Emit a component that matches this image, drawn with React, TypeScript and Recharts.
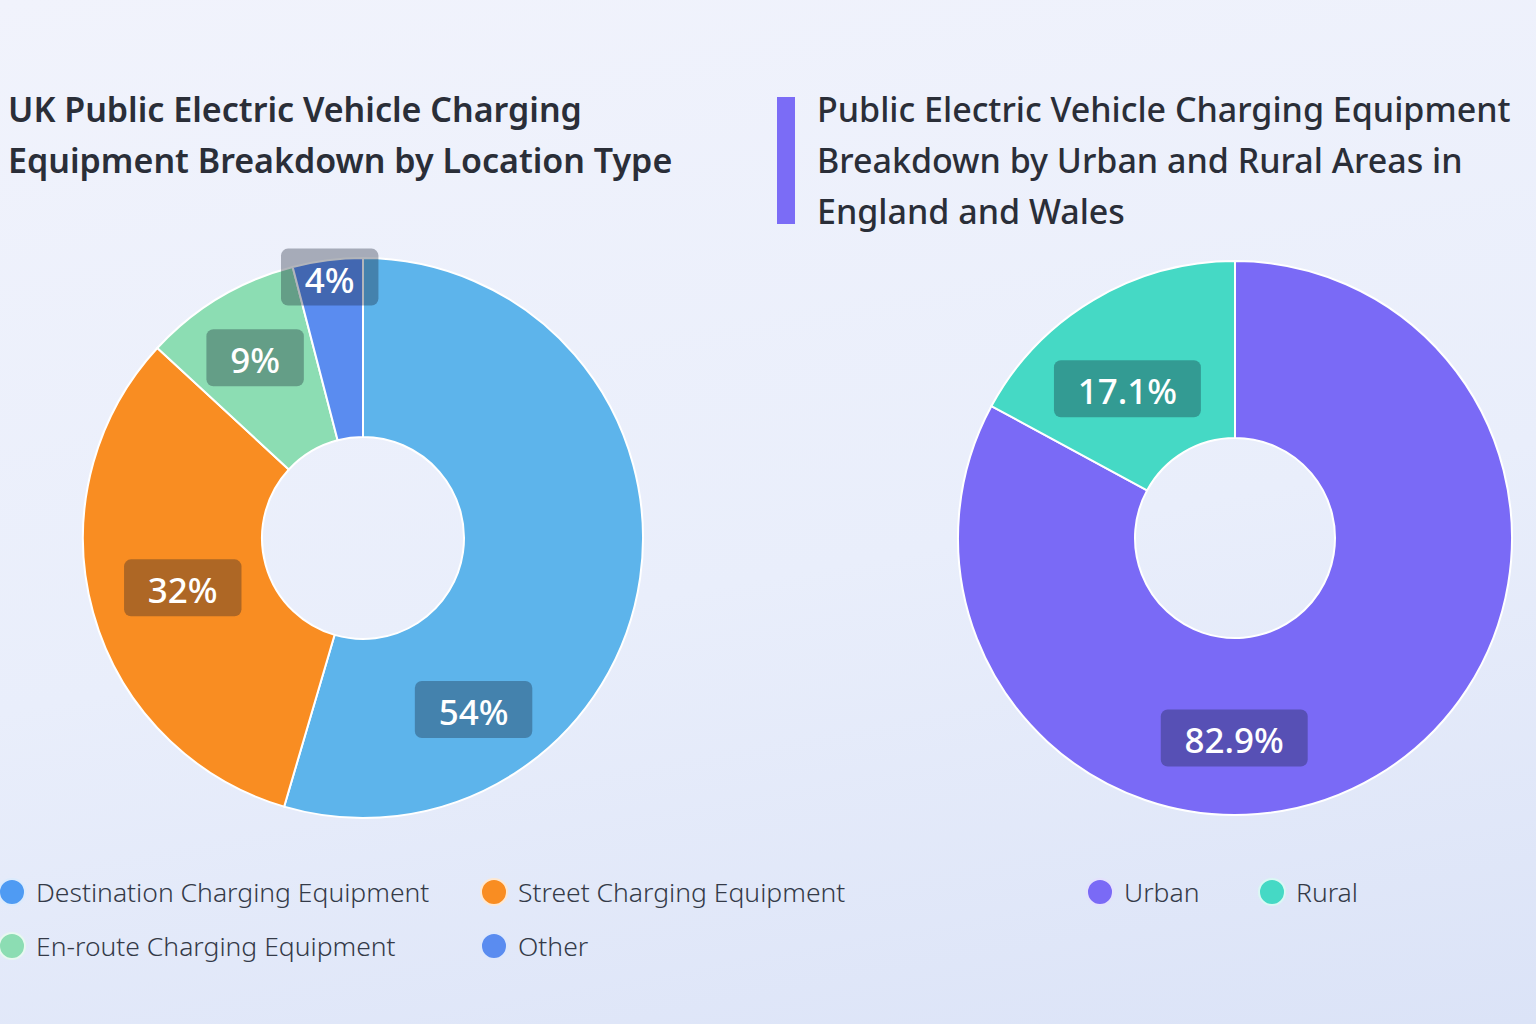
import React from 'react';
import { PieChart, Pie, Cell } from 'recharts';

// location type breakdown (percent)
const locationNames = [
  'Destination Charging Equipment',
  'Street Charging Equipment',
  'En-route Charging Equipment',
  'Other',
];
const locationValues = [54, 32, 9, 4];
const locationColors = ['#5DB4EB', '#F98D22', '#8CDDB3', '#5A8CF0'];
const locationLegendColors = ['#4F9BF3', '#F98D22', '#8CDDB3', '#5A8CF0'];

// urban / rural breakdown (percent)
const areaNames = ['Urban', 'Rural'];
const areaValues = [82.9, 17.1];
const areaColors = ['#7A6AF6', '#45D9C5'];

// label placement tweaks: angle offset (deg, clockwise) and radius
const locationLabelShift = [49, 0, 0, 0];
const locationLabelRadius = [204, 187, 210, 263];
const areaLabelShift = [31, -5];
const areaLabelRadius = [200, 184];

const FONT = '"Noto Sans", sans-serif';

const charW = (c: string) => (c === '%' ? 0.84 : c === '.' ? 0.27 : 0.572);

const makeLabel = (shifts: number[], radii: number[], suffixDigits: number) => (props: any) => {
  const { cx, cy, midAngle, index, value } = props;
  const theta = ((90 - midAngle + shifts[index]) * Math.PI) / 180;
  const r = radii[index];
  const x = cx + r * Math.sin(theta);
  const y = cy - r * Math.cos(theta);
  const text = `${suffixDigits ? Number(value).toFixed(suffixDigits) : value}%`;
  const fs = 35;
  const w = text.split('').reduce((s, c) => s + charW(c), 0) * fs + 48;
  const h = 57;
  return (
    <g>
      <rect x={x - w / 2} y={y - h / 2} width={w} height={h} rx={7} fill="rgba(15,25,45,0.32)" />
      <text
        x={x}
        y={y + 2}
        fill="#fff"
        textAnchor="middle"
        dominantBaseline="central"
        fontSize={fs}
        fontWeight={500}
        fontFamily={FONT}
      >
        {text}
      </text>
    </g>
  );
};

const LegendItem = ({ color, label, style }: { color: string; label: string; style: React.CSSProperties }) => (
  <div style={{ position: 'absolute', display: 'flex', alignItems: 'center', ...style }}>
    <span
      style={{
        width: 24,
        height: 24,
        borderRadius: '50%',
        background: color,
        border: '2px solid rgba(255,255,255,0.8)',
        marginRight: 10,
        marginLeft: -14,
        flexShrink: 0,
      }}
    />
    <span style={{ fontSize: 26.5, color: '#343a48', fontFamily: FONT, fontWeight: 300 }}>{label}</span>
  </div>
);

export default function App() {
  const locData = locationNames.map((name, i) => ({ name, value: locationValues[i] }));
  const areaData = areaNames.map((name, i) => ({ name, value: areaValues[i] }));

  const titleStyle: React.CSSProperties = {
    position: 'absolute',
    fontFamily: FONT,
    fontSize: 34,
    fontWeight: 600,
    color: '#2a2e38',
    lineHeight: '51px',
    margin: 0,
    whiteSpace: 'nowrap',
  };

  return (
    <div
      style={{
        position: 'fixed',
        left: 0,
        top: 0,
        width: 1536,
        height: 1024,
        overflow: 'hidden',
        background: 'linear-gradient(170deg, #f1f3fc 0%, #e9eefb 55%, #dbe3f7 100%)',
      }}
    >
      <div style={{ ...titleStyle, left: 8, top: 84 }}>
        UK Public Electric Vehicle Charging
        <br />
        Equipment Breakdown by Location Type
      </div>

      <div style={{ position: 'absolute', left: 777, top: 97, width: 18, height: 127, background: '#7B6CF6' }} />
      <div style={{ ...titleStyle, left: 817, top: 84, fontWeight: 500 }}>
        Public Electric Vehicle Charging Equipment
        <br />
        Breakdown by Urban and Rural Areas in
        <br />
        England and Wales
      </div>

      <div style={{ position: 'absolute', left: 0, top: 0 }}>
        <PieChart width={768} height={1024}>
          <Pie
            data={locData}
            dataKey="value"
            nameKey="name"
            cx={358}
            cy={533}
            innerRadius={101}
            outerRadius={280}
            startAngle={90}
            endAngle={-270}
            stroke="#ffffff"
            strokeWidth={2}
            labelLine={false}
            label={makeLabel(locationLabelShift, locationLabelRadius, 0)}
            isAnimationActive={false}
          >
            {locData.map((d, i) => (
              <Cell key={d.name} fill={locationColors[i]} />
            ))}
          </Pie>
        </PieChart>
      </div>

      <div style={{ position: 'absolute', left: 768, top: 0 }}>
        <PieChart width={768} height={1024}>
          <Pie
            data={areaData}
            dataKey="value"
            nameKey="name"
            cx={462}
            cy={533}
            innerRadius={100}
            outerRadius={277}
            startAngle={90}
            endAngle={-270}
            stroke="#ffffff"
            strokeWidth={2}
            labelLine={false}
            label={makeLabel(areaLabelShift, areaLabelRadius, 1)}
            isAnimationActive={false}
          >
            {areaData.map((d, i) => (
              <Cell key={d.name} fill={areaColors[i]} />
            ))}
          </Pie>
        </PieChart>
      </div>

      <LegendItem color={locationLegendColors[0]} label={locationNames[0]} style={{ left: 12, top: 874 }} />
      <LegendItem color={locationLegendColors[1]} label={locationNames[1]} style={{ left: 494, top: 874 }} />
      <LegendItem color={locationLegendColors[2]} label={locationNames[2]} style={{ left: 12, top: 928 }} />
      <LegendItem color={locationLegendColors[3]} label={locationNames[3]} style={{ left: 494, top: 928 }} />

      <LegendItem color={areaColors[0]} label={areaNames[0]} style={{ left: 1100, top: 874 }} />
      <LegendItem color={areaColors[1]} label={areaNames[1]} style={{ left: 1272, top: 874 }} />
    </div>
  );
}
